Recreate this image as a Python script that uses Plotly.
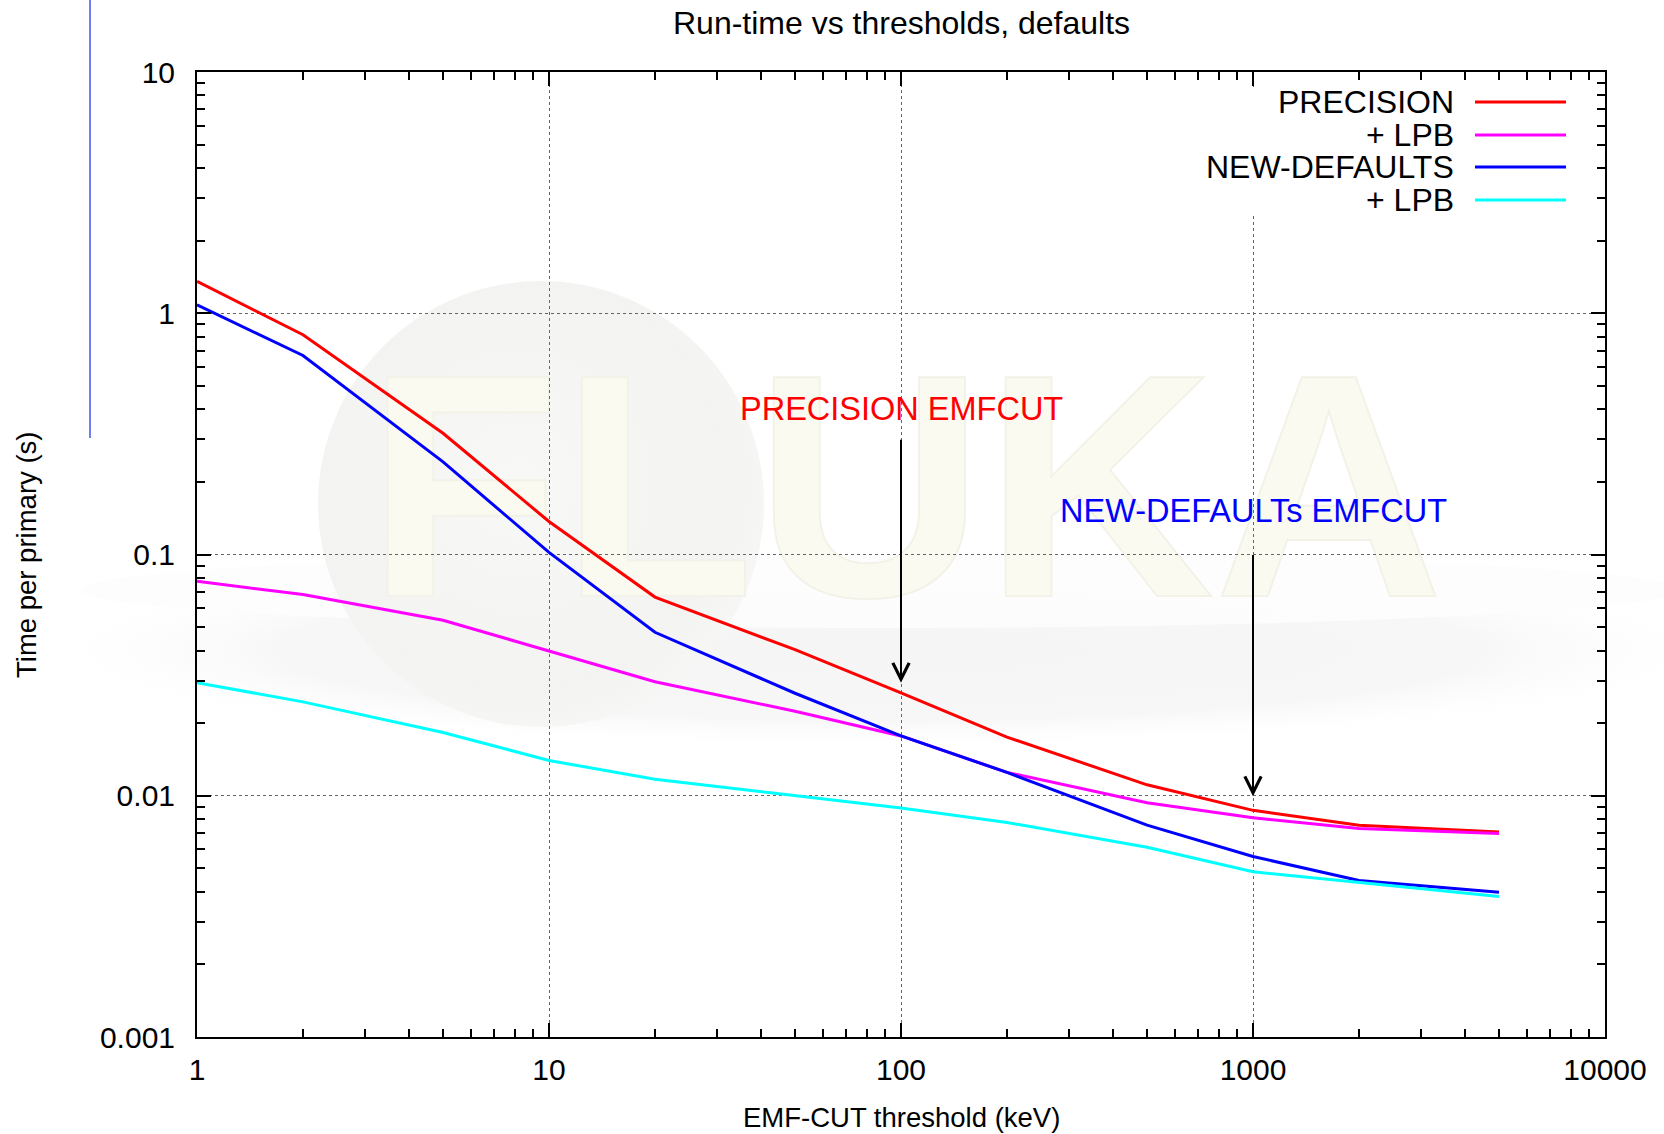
import math
import base64
import plotly.graph_objects as go

# ---------------- data ----------------
thresholds_kev = [1, 2, 5, 10, 20, 50, 100, 200, 500, 1000, 2000, 5000]
precision = [1.355, 0.815, 0.318, 0.137, 0.0666, 0.0403, 0.0267, 0.0175, 0.0111, 0.00870, 0.00755, 0.00708]
precision_lpb = [0.0774, 0.0682, 0.0534, 0.0399, 0.0297, 0.0224, 0.0177, 0.0125, 0.00935, 0.00810, 0.00732, 0.00698]
new_defaults = [1.084, 0.668, 0.242, 0.102, 0.0476, 0.0266, 0.0177, 0.0125, 0.00755, 0.00560, 0.00445, 0.00398]
new_defaults_lpb = [0.0294, 0.0245, 0.0183, 0.0140, 0.0117, 0.0100, 0.00889, 0.00775, 0.00612, 0.00484, 0.00436, 0.00382]

series_names = ["PRECISION", "+ LPB", "NEW-DEFAULTS", "+ LPB"]
series_values = [precision, precision_lpb, new_defaults, new_defaults_lpb]
series_colors = ["#ff0000", "#ff00ff", "#0000ff", "#00ffff"]

x_tickvals = [1, 10, 100, 1000, 10000]
x_ticktext = ["1", "10", "100", "1000", "10000"]
y_tickvals = [0.001, 0.01, 0.1, 1, 10]
y_ticktext = ["0.001", "0.01", "0.1", "1", "10"]
minor_mult = [2, 3, 4, 5, 6, 7, 8, 9]
x_minor = [d * m for d in x_tickvals[:-1] for m in minor_mult]
y_minor = [d * m for d in y_tickvals[:-1] for m in minor_mult]

# annotation arrows
arrow_x = [100, 1000]
arrow_tail = [0.303, 0.101]
arrow_tip = [0.0294, 0.00995]
arrow_labels = ["PRECISION EMFCUT", "NEW-DEFAULTs EMFCUT"]
arrow_label_y = [0.402, 0.152]
arrow_label_colors = ["#ff0000", "#0000ff"]

# ---------------- geometry ----------------
W, H = 1664, 1134
L, R, T, B = 197, 59, 72, 97
PW, PH = W - L - R, H - T - B

def px_x(p):
    return (p - L) / PW

def px_y(p):
    return (H - B - p) / PH

FONT = "Liberation Sans, Arial, Helvetica, sans-serif"

fig = go.Figure()
for name, vals, col in zip(series_names, series_values, series_colors):
    fig.add_trace(go.Scatter(x=thresholds_kev, y=vals, mode="lines", name=name,
                             line=dict(color=col, width=3), showlegend=False))

# watermark (FLUKA logo, very faint) as an inline SVG image
svg = (
    "<svg xmlns='http://www.w3.org/2000/svg' width='1664' height='1134' viewBox='0 0 1664 1134'>"
    "<defs>"
    "<radialGradient id='g1' cx='0.5' cy='0.5' r='0.5'>"
    "<stop offset='0' stop-color='#f5f5f5'/><stop offset='0.7' stop-color='#f7f7f7'/>"
    "<stop offset='1' stop-color='#ffffff' stop-opacity='0'/></radialGradient>"
    "<radialGradient id='g2' cx='0.45' cy='0.45' r='0.55'>"
    "<stop offset='0' stop-color='#f8f8f7'/><stop offset='0.85' stop-color='#f3f3f2'/>"
    "<stop offset='1' stop-color='#f6f6f5'/></radialGradient>"
    "</defs>"
    "<ellipse cx='880' cy='650' rx='860' ry='100' fill='url(#g1)'/>"
    "<ellipse cx='880' cy='590' rx='800' ry='38' fill='#fdfdfd' opacity='0.9'/>"
    "<circle cx='541' cy='504' r='223' fill='url(#g2)'/>"
    "<text x='905' y='596' text-anchor='middle' font-family='Liberation Sans, Arial' font-weight='bold' "
    "font-size='318' fill='#fafaf0' stroke='#f2f2e8' stroke-width='2'>FLUKA</text>"
    "</svg>"
)
src = "data:image/svg+xml;base64," + base64.b64encode(svg.encode()).decode()
fig.add_layout_image(dict(source=src, xref="paper", yref="paper",
                          x=px_x(0), y=px_y(0), sizex=W / PW, sizey=H / PH,
                          xanchor="left", yanchor="top", sizing="stretch",
                          layer="below", opacity=1))

shapes = []
shapes.append(dict(type="line", xref="paper", yref="paper",
                   x0=px_x(90), x1=px_x(90), y0=px_y(0), y1=px_y(438),
                   line=dict(color="#6f7ff2", width=2)))
# white legend box hiding the grid behind the key
shapes.append(dict(type="rect", xref="paper", yref="paper", layer="above",
                   x0=px_x(1192), x1=px_x(1588), y0=px_y(214), y1=px_y(88),
                   fillcolor="white", line=dict(width=0)))

annotations = []
legend_rows_y = [102, 135, 167, 200]
for name, col, ry in zip(series_names, series_colors, legend_rows_y):
    annotations.append(dict(xref="paper", yref="paper", x=px_x(1456), y=px_y(ry),
                            text=name, showarrow=False, xanchor="right", yanchor="middle",
                            font=dict(family=FONT, size=32, color="black")))
    shapes.append(dict(type="line", xref="paper", yref="paper", layer="above",
                       x0=px_x(1475), x1=px_x(1566), y0=px_y(ry), y1=px_y(ry),
                       line=dict(color=col, width=3)))

for xv, tail, tip, lab, ly, lc in zip(arrow_x, arrow_tail, arrow_tip, arrow_labels,
                                      arrow_label_y, arrow_label_colors):
    annotations.append(dict(x=math.log10(xv), y=math.log10(tip), ax=math.log10(xv),
                            ay=math.log10(tail), xref="x", yref="y", axref="x", ayref="y",
                            text="", showarrow=True, arrowhead=5, arrowsize=1.6,
                            arrowwidth=2, arrowcolor="black", standoff=0))
    annotations.append(dict(x=math.log10(xv), y=math.log10(ly), xref="x", yref="y",
                            text=lab, showarrow=False, xanchor="center", yanchor="middle",
                            font=dict(family=FONT, size=32.5, color=lc)))

annotations.append(dict(xref="paper", yref="paper", x=px_x(901), y=px_y(23),
                        text="Run-time vs thresholds, defaults", showarrow=False,
                        xanchor="center", yanchor="middle",
                        font=dict(family=FONT, size=32, color="black")))
annotations.append(dict(xref="paper", yref="paper", x=px_x(901), y=px_y(1117),
                        text="EMF-CUT threshold (keV)", showarrow=False,
                        xanchor="center", yanchor="middle",
                        font=dict(family=FONT, size=27.5, color="black")))
annotations.append(dict(xref="paper", yref="paper", x=px_x(26), y=px_y(555),
                        text="Time per primary (s)", showarrow=False, textangle=-90,
                        xanchor="center", yanchor="middle",
                        font=dict(family=FONT, size=27.5, color="black")))

axis_common = dict(
    type="log", showline=True, linecolor="black", linewidth=2, mirror="allticks",
    ticks="inside", ticklen=14, tickwidth=2, tickcolor="black",
    showgrid=True, gridcolor="#666666", gridwidth=1, griddash="dot",
    zeroline=False, tickfont=dict(family=FONT, size=30, color="black"),
)

fig.update_xaxes(**axis_common, range=[0, 4], tickmode="array", tickvals=x_tickvals,
                 ticktext=x_ticktext, ticklabelstandoff=5,
                 minor=dict(tickmode="array", tickvals=x_minor, ticks="inside", ticklen=8,
                            tickwidth=2, tickcolor="black", showgrid=False))
fig.update_yaxes(**axis_common, range=[-3, 1], tickmode="array", tickvals=y_tickvals,
                 ticktext=y_ticktext, ticklabelstandoff=14,
                 minor=dict(tickmode="array", tickvals=y_minor, ticks="inside", ticklen=8,
                            tickwidth=2, tickcolor="black", showgrid=False))

fig.update_layout(
    width=W, height=H, margin=dict(l=L, r=R, t=T, b=B, autoexpand=False),
    paper_bgcolor="white", plot_bgcolor="rgba(0,0,0,0)",
    shapes=shapes, annotations=annotations, showlegend=False,
    font=dict(family=FONT),
)

fig.write_html("out.html", config={"displayModeBar": False},
               post_script="document.body.style.margin='0';")
